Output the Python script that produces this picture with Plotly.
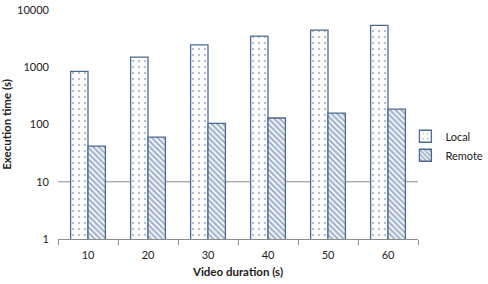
import plotly.graph_objects as go

categories = ["10", "20", "30", "40", "50", "60"]
local_vals = [850, 1500, 2450, 3500, 4450, 5400]
remote_vals = [42, 60, 105, 130, 158, 185]
y_ticks = [1, 10, 100, 1000, 10000]

blue = "#4A6A94"
font = "Lato"

fig = go.Figure()
fig.add_trace(go.Bar(
    x=categories, y=local_vals, name="Local",
    marker=dict(color="white", line=dict(color=blue, width=1.3),
                pattern=dict(shape=".", fgcolor="#6a7f99", bgcolor="white", size=6, solidity=0.12)),
))
fig.add_trace(go.Bar(
    x=categories, y=remote_vals, name="Remote",
    marker=dict(color="white", line=dict(color=blue, width=1.3),
                pattern=dict(shape="\\", fgcolor=blue, bgcolor="white", size=4, solidity=0.6)),
))
fig.add_hline(y=10, line=dict(color="#8c8c8c", width=1), layer="below")

fig.update_layout(
    width=488, height=284,
    margin=dict(l=58, r=70, t=10, b=45, autoexpand=False),
    paper_bgcolor="white", plot_bgcolor="white",
    barmode="group", bargap=0.42, bargroupgap=0,
    font=dict(family=font, size=11, color="#222"),
    legend=dict(x=0.965, y=0.512, xanchor="left", yanchor="top",
                bgcolor="rgba(0,0,0,0)",
                font=dict(size=11), itemwidth=30, tracegroupgap=6),
    xaxis=dict(
        title=dict(text="<b>Video duration (s)</b>", font=dict(size=11.5), standoff=7),
        showline=True, linecolor="#8c8c8c", linewidth=1,
        ticks="outside", tickson="boundaries", ticklen=5, tickcolor="#8c8c8c",
        ticklabelstandoff=6, automargin=False,
        showgrid=False,
    ),
    yaxis=dict(
        title=dict(text="<b>Execution time (s)</b>", font=dict(size=11.5), standoff=4),
        type="log", range=[0, 4], tickvals=y_ticks, ticktext=[str(v) for v in y_ticks],
        ticklabelstandoff=8, automargin=False,
        showgrid=False, showline=False, zeroline=False, ticks="",
    ),
)

fig.write_html("out.html")
